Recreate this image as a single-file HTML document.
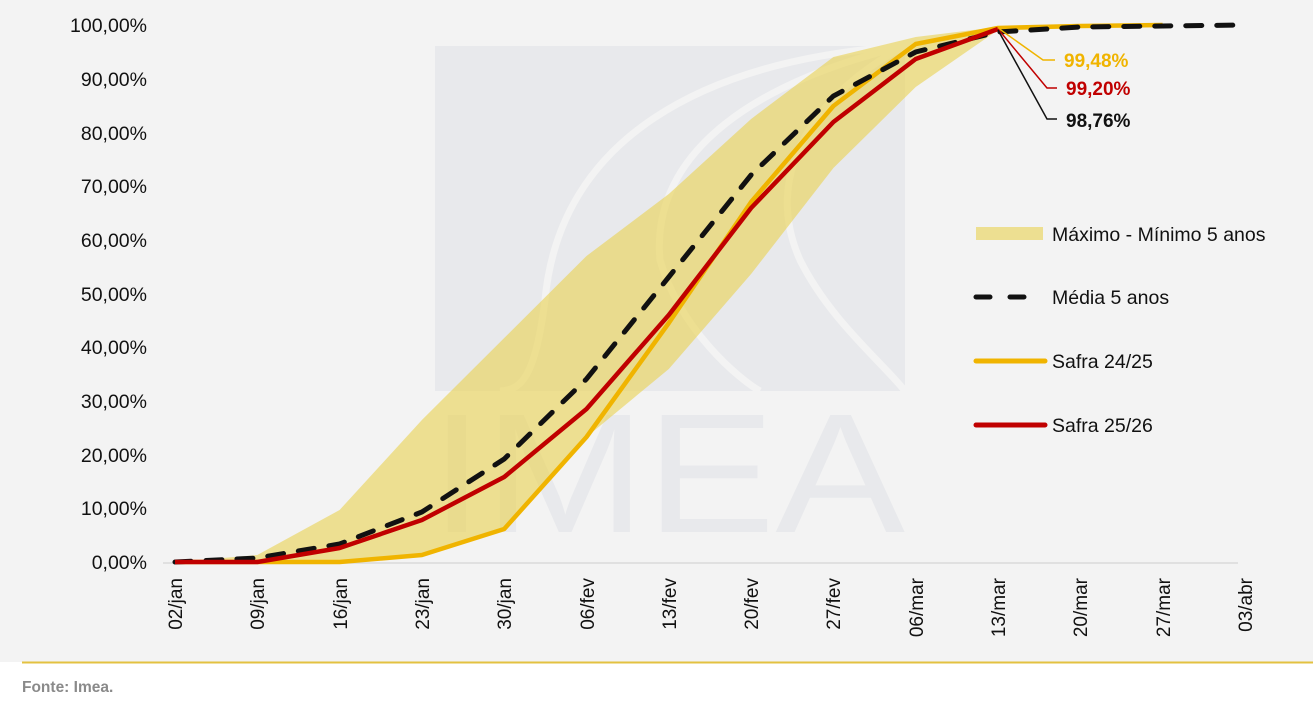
<!DOCTYPE html>
<html><head><meta charset="utf-8"><style>
html,body{margin:0;padding:0;background:#fff;}
svg{display:block;font-family:"Liberation Sans",sans-serif;}
</style></head><body>
<svg width="1313" height="702" viewBox="0 0 1313 702" xmlns="http://www.w3.org/2000/svg">
<rect x="0" y="0" width="1313" height="662" fill="#f3f3f3"/>
<!-- watermark -->
<rect x="435" y="46" width="470" height="345" fill="#e8e9ec"/>
<path d="M905 46 C700 60 560 140 545 300 C535 380 520 390 500 391" fill="none" stroke="#f3f3f3" stroke-width="7"/>
<path d="M905 46 C760 80 650 150 660 260 C680 330 740 380 760 391" fill="none" stroke="#f3f3f3" stroke-width="7"/>
<path d="M905 46 C820 90 760 170 800 260 C830 320 880 360 905 391" fill="none" stroke="#f3f3f3" stroke-width="7"/>
<text x="430" y="532" font-size="170" fill="#e8e9ec" textLength="475" lengthAdjust="spacingAndGlyphs">IMEA</text>
<!-- baseline -->
<line x1="163" y1="563" x2="1238" y2="563" stroke="#d9d9d9" stroke-width="1.5"/>
<!-- band -->
<polygon fill="#e9d250" fill-opacity="0.6" points="175,562 257.3,555 339.6,510 421.9,420 504.2,338 586.5,256 668.8,194 751.1,119 833.4,57 915.7,37 998,27 1080.3,25 1162.6,25 1162.6,27 1080.3,28 998,30 915.7,87 833.4,168 751.1,274 668.8,369 586.5,437 504.2,529 421.9,555 339.6,562 257.3,562 175,562"/>
<!-- yellow -->
<polyline fill="none" stroke="#f0b400" stroke-width="4.5" stroke-linejoin="round" points="175,562 257.3,562 339.6,562 421.9,555 504.2,529 586.5,437 668.8,323 751.1,202 833.4,106 915.7,44 998,28 1080.3,26 1162.6,25"/>
<!-- black dashed -->
<polyline fill="none" stroke="#111" stroke-width="5" stroke-dasharray="16,15" stroke-linecap="round" points="175,562 257.3,558 339.6,544 421.9,512 504.2,459 586.5,379 668.8,277 751.1,175 833.4,96 915.7,52 998,32 1080.3,27 1162.6,26 1244.9,25"/>
<!-- red -->
<polyline fill="none" stroke="#c00000" stroke-width="4.5" stroke-linejoin="round" points="175,562 257.3,562 339.6,548 421.9,520 504.2,477 586.5,409 668.8,315 751.1,208 833.4,122 915.7,59 998,29"/>
<!-- annotations -->
<polyline fill="none" stroke="#f0b400" stroke-width="1.5" points="998,28 1043,60 1055,60"/>
<polyline fill="none" stroke="#c00000" stroke-width="1.5" points="998,29 1047,88 1057,88"/>
<polyline fill="none" stroke="#111" stroke-width="1.5" points="998,30 1047,119 1057,119"/>
<text x="1064" y="67" font-size="19" font-weight="bold" fill="#f0b400">99,48%</text>
<text x="1066" y="95" font-size="19" font-weight="bold" fill="#c00000">99,20%</text>
<text x="1066" y="127" font-size="19" font-weight="bold" fill="#111">98,76%</text>
<!-- legend -->
<rect x="976" y="227" width="67" height="13" fill="#e9d250" fill-opacity="0.6"/>
<text x="1052" y="241" font-size="19.5" fill="#111">Máximo - Mínimo 5 anos</text>
<line x1="976" y1="297" x2="1038" y2="297" stroke="#111" stroke-width="5" stroke-dasharray="14,20" stroke-linecap="round"/>
<text x="1052" y="304" font-size="19.5" fill="#111">Média 5 anos</text>
<line x1="976" y1="361" x2="1045" y2="361" stroke="#f0b400" stroke-width="5" stroke-linecap="round"/>
<text x="1052" y="368" font-size="19.5" fill="#111">Safra 24/25</text>
<line x1="976" y1="425" x2="1045" y2="425" stroke="#c00000" stroke-width="5" stroke-linecap="round"/>
<text x="1052" y="432" font-size="19.5" fill="#111">Safra 25/26</text>
<!-- y axis labels -->
<g font-size="19.5" fill="#111" text-anchor="end">
<text x="147" y="569">0,00%</text>
<text x="147" y="515">10,00%</text>
<text x="147" y="462">20,00%</text>
<text x="147" y="408">30,00%</text>
<text x="147" y="354">40,00%</text>
<text x="147" y="301">50,00%</text>
<text x="147" y="247">60,00%</text>
<text x="147" y="193">70,00%</text>
<text x="147" y="140">80,00%</text>
<text x="147" y="86">90,00%</text>
<text x="147" y="32">100,00%</text>
</g>
<!-- x axis labels -->
<g font-size="19" fill="#111" text-anchor="end">
<text transform="translate(182,578) rotate(-90)">02/jan</text>
<text transform="translate(264,578) rotate(-90)">09/jan</text>
<text transform="translate(347,578) rotate(-90)">16/jan</text>
<text transform="translate(429,578) rotate(-90)">23/jan</text>
<text transform="translate(511,578) rotate(-90)">30/jan</text>
<text transform="translate(594,578) rotate(-90)">06/fev</text>
<text transform="translate(676,578) rotate(-90)">13/fev</text>
<text transform="translate(758,578) rotate(-90)">20/fev</text>
<text transform="translate(840,578) rotate(-90)">27/fev</text>
<text transform="translate(923,578) rotate(-90)">06/mar</text>
<text transform="translate(1005,578) rotate(-90)">13/mar</text>
<text transform="translate(1087,578) rotate(-90)">20/mar</text>
<text transform="translate(1170,578) rotate(-90)">27/mar</text>
<text transform="translate(1252,578) rotate(-90)">03/abr</text>
</g>
<line x1="22" y1="662.5" x2="1313" y2="662.5" stroke="#e3c240" stroke-width="2"/>
<text x="22" y="692" font-size="15.5" font-weight="bold" fill="#8a8a8a">Fonte: Imea.</text>
</svg>
</body></html>
